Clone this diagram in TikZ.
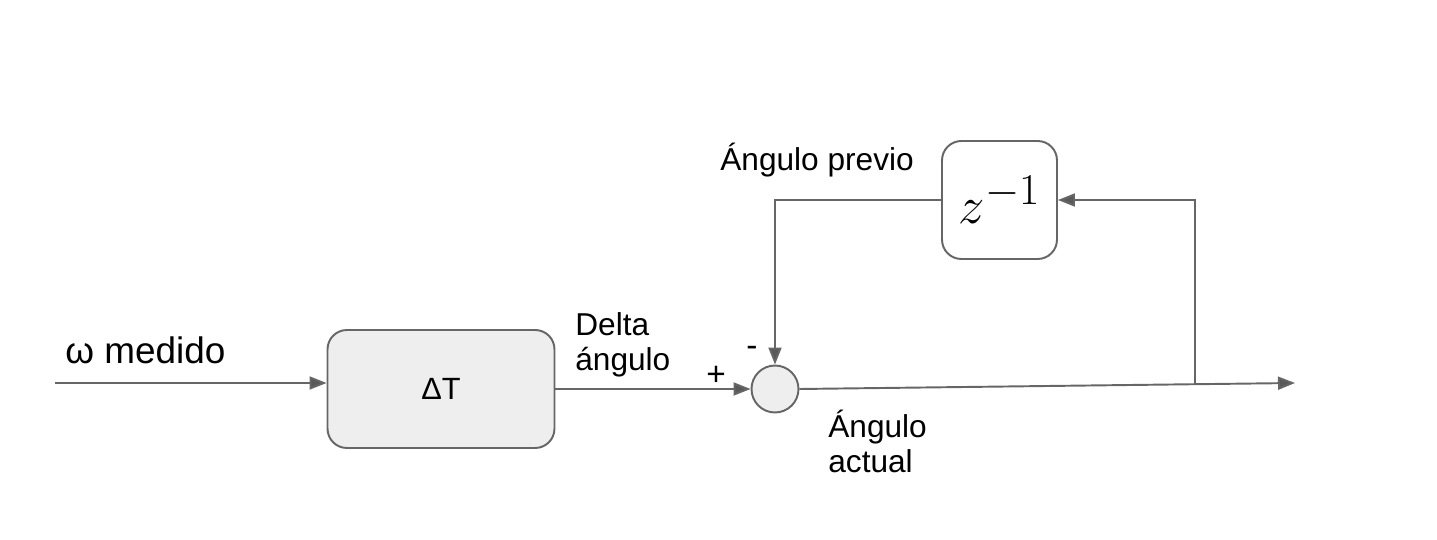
\RequirePackage{fix-cm}
\documentclass[tikz,border=0pt]{standalone}
\usepackage{fontspec}
\setmainfont{Liberation Sans}
\usepackage{xcolor}
\usepackage{tikz}
\usetikzlibrary{arrows.meta,positioning}

\definecolor{linegray}{HTML}{666666}
\definecolor{tipgray}{HTML}{595959}
\definecolor{boxfill}{HTML}{EEEEEE}
\DeclareMathSizes{30}{30}{25}{18}

\begin{document}
\begin{tikzpicture}[
    x=0.02cm, y=-0.02cm,
    block/.style={draw=linegray, line width=1.1pt, rounded corners=11pt, align=center, minimum width=4.54cm, minimum height=2.36cm, fill=boxfill, font=\fontsize{17.5}{20}\selectfont},
    delaybox/.style={draw=linegray, line width=1.1pt, rounded corners=11pt, minimum width=2.3cm, minimum height=2.36cm, fill=white, inner sep=0pt},
    sumnode/.style={draw=linegray, line width=1.1pt, circle, minimum size=0.94cm, inner sep=0pt, fill=boxfill},
    lbl/.style={align=left, font=\fontsize{18}{20}\selectfont, inner sep=0pt},
    arrow/.style={-{Triangle[length=3.4mm, width=2.6mm, fill=tipgray]}, line width=1.1pt, draw=linegray}
]
\useasboundingbox (0,0) rectangle (1437,540);

% blocks
\node[block] (dt) at (441,389) {ΔT};
\node[sumnode] (sum) at (775,389) {};
\node[delaybox] (delay) at (999.5,200) {\fontsize{30}{34}\selectfont\raisebox{-2pt}{$z^{-1}$}};

% free ends
\coordinate (in) at (55,383);
\coordinate (out) at (1295,383);
\coordinate (branch) at (1195,384);

% connectors
\draw[arrow] (in) -- (in -| dt.west);
\draw[arrow] (dt.east |- sum) -- (sum.west);
\draw[arrow] (sum.east) -- (out);
\draw[arrow] (branch) |- (delay.east);
\draw[arrow] (delay.west) -| (sum.north);

% labels
\node[lbl, anchor=west, font=\fontsize{21}{24}\selectfont] (omega) at (65,350) {ω medido};
\node[lbl, anchor=north west] (deltalbl) at (575,312) {Delta\\ángulo};
\node[lbl, anchor=base, font=\fontsize{19}{22}\selectfont] (plus) at (716,386) {+};
\node[lbl, anchor=base, font=\fontsize{19}{22}\selectfont] (minus) at (752,357) {-};
\node[lbl, anchor=north west] (actual) at (828,410) {Ángulo\\actual};
\node[lbl, anchor=west] (previo) at (720,160) {Ángulo previo};
\end{tikzpicture}
\end{document}
